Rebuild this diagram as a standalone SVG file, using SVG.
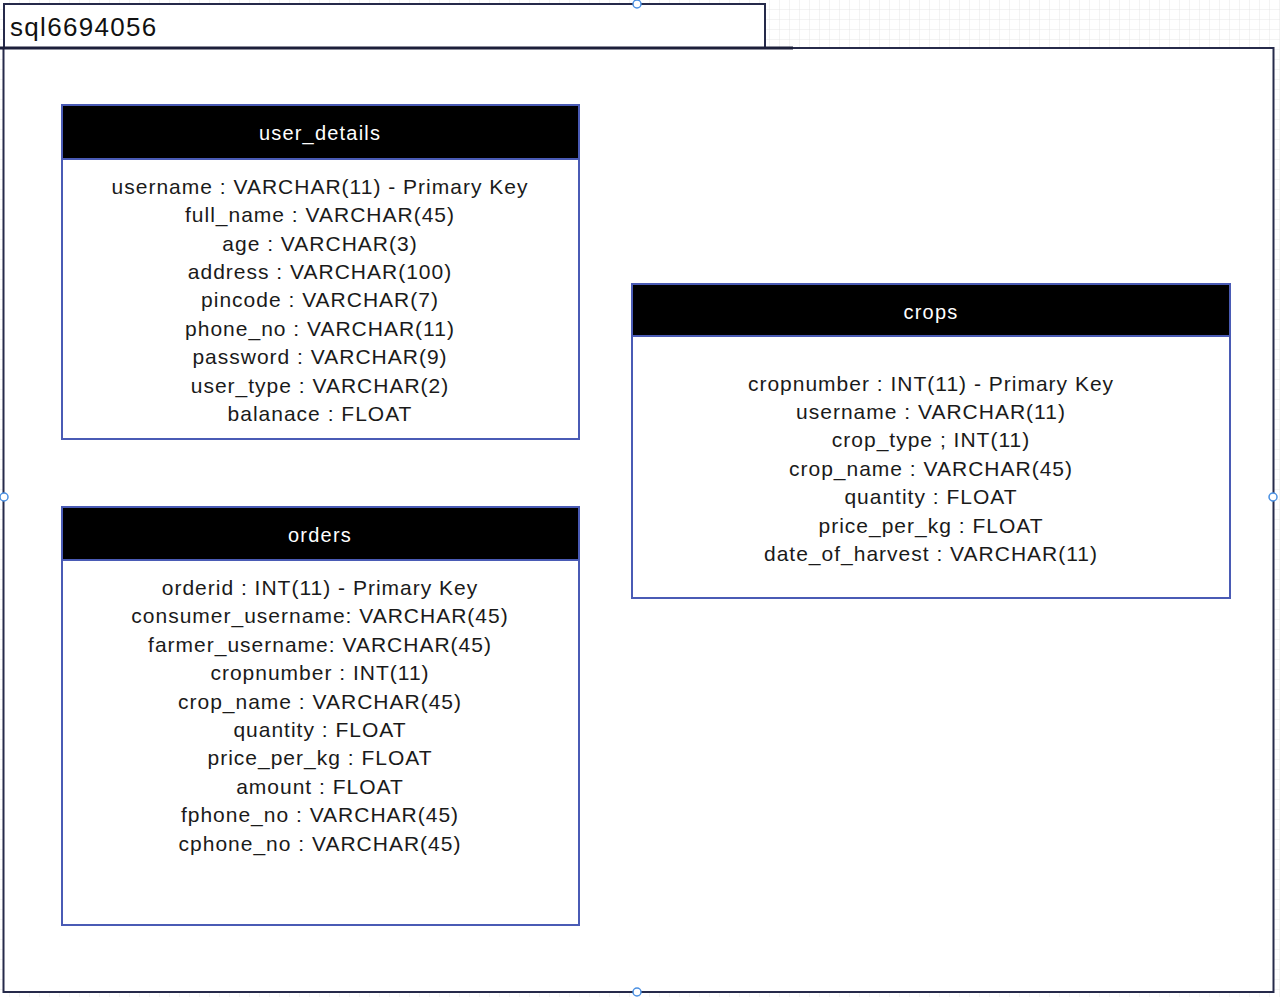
<svg xmlns="http://www.w3.org/2000/svg" width="1280" height="997" viewBox="0 0 1280 997">
<defs>
<pattern id="grid" width="10" height="10" patternUnits="userSpaceOnUse">
<path d="M10 0V10M0 10H10" fill="none" stroke="#e6e6e6" stroke-width="1"/>
</pattern>
<style>
.tbl{fill:#fff;stroke:#4a5bb5;stroke-width:2}
.hdr{fill:#000;stroke:#4a5bb5;stroke-width:2}
.ht{font-family:"Liberation Sans",Arial,sans-serif;font-size:20px;letter-spacing:1.2px;fill:#fff;text-anchor:middle}
.bt{font-family:"Liberation Sans",Arial,sans-serif;font-size:21px;letter-spacing:1px;fill:#1a1a1a;text-anchor:middle}
.h{fill:#fff;stroke:#4a90e2;stroke-width:1.5}
</style>
</defs>
<rect width="1280" height="997" fill="#fff"/>
<rect width="1280" height="997" fill="url(#grid)"/>
<g id="container">
<rect x="3.5" y="48" width="1270" height="944" fill="#fff" stroke="#262a4a" stroke-width="2"/>
<rect x="4" y="4" width="761" height="44" fill="#fff" stroke="#262a4a" stroke-width="2"/>
<line x1="0" y1="48" x2="793" y2="48" stroke="#1c1f3a" stroke-width="3"/>
<text x="10" y="36" font-family="'Liberation Sans',Arial,sans-serif" font-size="26" letter-spacing="1.3" fill="#111">sql6694056</text>
</g>
<g id="user_details">
<rect class="tbl" x="62" y="105" width="517" height="334"/>
<rect class="hdr" x="62" y="105" width="517" height="54"/>
<text class="ht" x="320" y="140">user_details</text>
<text class="bt" x="320" y="194">username : VARCHAR(11) - Primary Key</text>
<text class="bt" x="320" y="222">full_name : VARCHAR(45)</text>
<text class="bt" x="320" y="251">age : VARCHAR(3)</text>
<text class="bt" x="320" y="279">address : VARCHAR(100)</text>
<text class="bt" x="320" y="307">pincode : VARCHAR(7)</text>
<text class="bt" x="320" y="336">phone_no : VARCHAR(11)</text>
<text class="bt" x="320" y="364">password : VARCHAR(9)</text>
<text class="bt" x="320" y="393">user_type : VARCHAR(2)</text>
<text class="bt" x="320" y="421">balanace : FLOAT</text>
</g>
<g id="orders">
<rect class="tbl" x="62" y="507" width="517" height="418"/>
<rect class="hdr" x="62" y="507" width="517" height="53"/>
<text class="ht" x="320" y="542">orders</text>
<text class="bt" x="320" y="595">orderid : INT(11) - Primary Key</text>
<text class="bt" x="320" y="623">consumer_username: VARCHAR(45)</text>
<text class="bt" x="320" y="652">farmer_username: VARCHAR(45)</text>
<text class="bt" x="320" y="680">cropnumber : INT(11)</text>
<text class="bt" x="320" y="709">crop_name : VARCHAR(45)</text>
<text class="bt" x="320" y="737">quantity : FLOAT</text>
<text class="bt" x="320" y="765">price_per_kg : FLOAT</text>
<text class="bt" x="320" y="794">amount : FLOAT</text>
<text class="bt" x="320" y="822">fphone_no : VARCHAR(45)</text>
<text class="bt" x="320" y="851">cphone_no : VARCHAR(45)</text>
</g>
<g id="crops">
<rect class="tbl" x="632" y="284" width="598" height="314"/>
<rect class="hdr" x="632" y="284" width="598" height="52"/>
<text class="ht" x="931" y="319">crops</text>
<text class="bt" x="931" y="391">cropnumber : INT(11) - Primary Key</text>
<text class="bt" x="931" y="419">username : VARCHAR(11)</text>
<text class="bt" x="931" y="447">crop_type ; INT(11)</text>
<text class="bt" x="931" y="476">crop_name : VARCHAR(45)</text>
<text class="bt" x="931" y="504">quantity : FLOAT</text>
<text class="bt" x="931" y="533">price_per_kg : FLOAT</text>
<text class="bt" x="931" y="561">date_of_harvest : VARCHAR(11)</text>
</g>
<g id="connectors"></g>
<g id="handles">
<circle class="h" cx="637" cy="4" r="4"/>
<circle class="h" cx="4" cy="497" r="4"/>
<circle class="h" cx="1273" cy="497" r="4"/>
<circle class="h" cx="637" cy="992" r="4"/>
</g>
</svg>
